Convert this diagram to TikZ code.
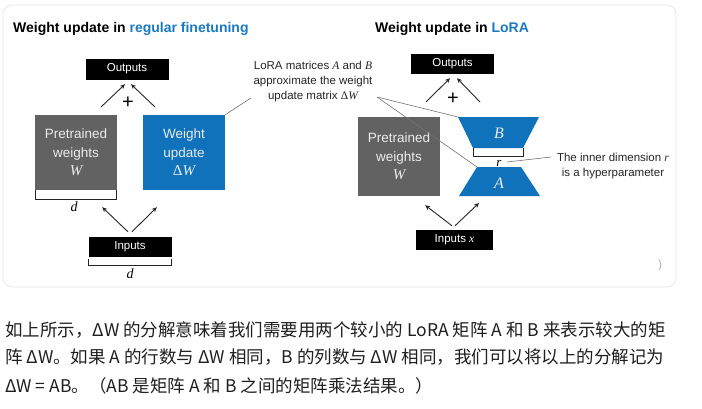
\documentclass[tikz,border=0pt]{standalone}
\usepackage{fontspec}
\setmainfont{Liberation Sans}
\newfontfamily\cjk{Noto Sans CJK SC}
\newfontfamily\mth{Liberation Serif}
\usetikzlibrary{arrows.meta,calc}
\definecolor{lblue}{RGB}{16,114,186}
\definecolor{tblue}{RGB}{26,122,194}
\definecolor{lgray}{RGB}{98,98,98}
\definecolor{cardline}{RGB}{232,232,232}
\newcommand{\mi}[1]{{\mth\itshape #1}}
\newcommand{\mD}{{\mth\upshape Δ}}
\tikzset{
  blackbox/.style={fill=black, draw=black, text=white, minimum width=82pt, minimum height=19pt, inner sep=0pt, font=\fontsize{11.5}{13}\selectfont},
  graybox/.style={fill=lgray, draw=none, text=white!92!black, minimum width=82pt, inner sep=0pt, align=center, font=\fontsize{13.5}{18.5}\selectfont},
  bluebox/.style={fill=lblue, draw=none, text=white!92!black, minimum width=82pt, inner sep=0pt, align=center, font=\fontsize{13.5}{18.5}\selectfont},
  arr/.style={-{Stealth[length=5pt,width=4.5pt]}, line width=0.9pt, draw=black!85},
  brk/.style={line width=0.8pt, draw=black!85},
  note/.style={font=\fontsize{11.5}{15}\selectfont, align=center, text=black!85, inner sep=0pt},
  pointer/.style={line width=0.6pt, draw=black!55},
  plus/.style={font=\fontsize{20}{20}\selectfont, inner sep=0pt},
  title/.style={font=\fontsize{14}{16}\selectfont\bfseries, anchor=west, inner sep=0pt},
  cjkline/.style={font=\cjk\fontsize{17.5}{20}\selectfont, anchor=west, inner sep=0pt, text=black!88},
}
\begin{document}
\begin{tikzpicture}[x=1pt, y=-1pt]
\useasboundingbox (0,0) rectangle (702,408);
\fill[white] (0,0) rectangle (702,408);
\draw[draw=cardline, line width=0.8pt, rounded corners=9pt] (3,5) rectangle (676,287);

% titles
\node[title] (tL) at (13,29) {Weight update in \textcolor{tblue}{regular finetuning}};
\node[title] (tR) at (375,29) {Weight update in \textcolor{tblue}{LoRA}};

% ---------- left: regular finetuning ----------
\node[blackbox, minimum height=20pt] (outL) at (127,69) {Outputs};
\node[graybox, minimum height=75pt] (pwL) at (76,152.5) {Pretrained\\weights\\{\fontsize{15}{18}\selectfont\mi{W}}};
\node[bluebox, minimum height=75pt] (wuL) at (184,152.5) {Weight\\update\\{\fontsize{15}{18}\selectfont\mD\mi{W}}};
\node[blackbox] (inL) at (130,246.5) {Inputs};
\node[plus] (plusL) at (128,103) {+};

\draw[arr] ([shift={(-16,-8)}]pwL.north east) -- ([shift={(-2,5)}]outL.south);
\draw[arr] ([shift={(12,-8)}]wuL.north west) -- ([shift={(4,5)}]outL.south);
\draw[arr] ([shift={(-2,-5)}]inL.north) -- ([shift={(-15,17)}]pwL.south east);
\draw[arr] ([shift={(2,-5)}]inL.north) -- ([shift={(14,17)}]wuL.south west);

\draw[brk] ([xshift=0.4pt]pwL.south west) -- ++(0,9) -| ([xshift=-0.4pt]pwL.south east);
\node[font=\fontsize{14}{14}\selectfont, inner sep=0pt] (dL1) at (74,207) {\mi{d}};
\draw[brk] ([yshift=-3pt]inL.south west) -- ++(0,6.5) -| ([yshift=-3pt]inL.south east);
\node[font=\fontsize{14}{14}\selectfont, inner sep=0pt] (dL2) at (130,274) {\mi{d}};

% ---------- annotation in the middle ----------
\node[note] (noteM) at (313,82) {LoRA matrices \mi{A} and \mi{B}\\approximate the weight\\update matrix \mD\mi{W}};
\coordinate (nL) at (251,98);
\coordinate (nR) at (377,97);

% ---------- right: LoRA ----------
\node[blackbox] (outR) at (452.5,63.5) {Outputs};
\node[graybox, minimum height=79pt] (pwR) at (399,156.5) {Pretrained\\weights\\{\fontsize{15}{18}\selectfont\mi{W}}};
\node[blackbox, minimum width=76pt] (inR) at (454.5,239.5) {Inputs \mi{x}};
\node[plus] (plusR) at (453,99) {+};

\coordinate (Btl) at (458,117);
\coordinate (Btr) at (539,117);
\coordinate (Bbr) at (523,148);
\coordinate (Bbl) at (473,148);
\coordinate (Atl) at (477,167);
\coordinate (Atr) at (521,167);
\coordinate (Abr) at (540,196);
\coordinate (Abl) at (459,196);
\fill[lblue] (Btl) -- (Btr) -- (Bbr) -- (Bbl) -- cycle;
\fill[lblue] (Atl) -- (Atr) -- (Abr) -- (Abl) -- cycle;
\node[text=white!92!black, font=\fontsize{16}{16}\selectfont, inner sep=0pt] (Blab) at (499,133) {\mi{B}};
\node[text=white!92!black, font=\fontsize{16}{16}\selectfont, inner sep=0pt] (Alab) at (499,183) {\mi{A}};

\draw[brk] (Bbl) -- ++(0,8.5) -| (Bbr);
\node[font=\fontsize{13}{13}\selectfont, inner sep=0pt] (rlab) at (499,163) {\mi{r}};

\draw[arr] ([shift={(-14,-15)}]pwR.north east) -- ([shift={(-2.5,5)}]outR.south);
\draw[arr] ([shift={(22,-15)}]Btl) -- ([shift={(4.5,5)}]outR.south);
\draw[arr] ([shift={(-2.5,-4)}]inR.north) -- ([shift={(-15,9)}]pwR.south east);
\draw[arr] ([shift={(0.5,-4)}]inR.north) -- ([shift={(20,7)}]Abl);

% pointer lines of the middle annotation
\draw[pointer] (nL) -- (wuL.north east);
\draw[pointer] (nR) -- (Btl);
\draw[pointer] (nR) -- (Atl);

% annotation for r
\node[note] (noteR) at (613,166) {The inner dimension \mi{r}\\is a hyperparameter};
\draw[pointer] (507,162) -- (551,157);

\node[text=black!30, font=\fontsize{12}{12}\selectfont, inner sep=0pt] (paren) at (660,265) {)};

% ---------- Chinese paragraph ----------
\node[cjkline] (c1) at (5,330) {如上所示，ΔW 的分解意味着我们需要用两个较小的 LoRA 矩阵 A 和 B 来表示较大的矩};
\node[cjkline] (c2) at (5,357) {阵 ΔW。如果 A 的行数与 ΔW 相同，B 的列数与 ΔW 相同，我们可以将以上的分解记为};
\node[cjkline] (c3) at (5,386) {ΔW = AB。（AB 是矩阵 A 和 B 之间的矩阵乘法结果。）};
\end{tikzpicture}
\end{document}
